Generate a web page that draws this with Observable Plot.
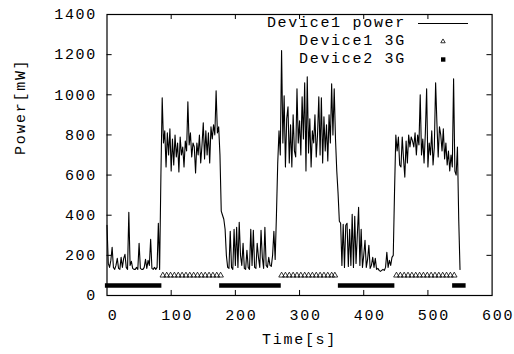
<!DOCTYPE html>
<html>
<head>
<meta charset="utf-8">
<script src="https://cdn.jsdelivr.net/npm/d3@7"></script>
<script src="https://cdn.jsdelivr.net/npm/@observablehq/plot@0.6"></script>
<style>
  html, body { margin: 0; padding: 0; background: #fff; }
  svg text { letter-spacing: 1.7px; }
</style>
</head>
<body>
<div id="chart"></div>
<script>
// Device1 power [mW], sampled every 2 s starting at t = 0 s
const sampleStep = 2;
const powerMw = [
  350,160,140,175,240,140,130,150,185,135,   // 0-18
  130,190,140,185,205,140,130,415,150,170,   // 20-38
  135,130,130,140,130,260,135,130,130,140,   // 40-58
  180,135,175,150,280,135,130,140,130,140,   // 60-78
  360,130,600,985,760,820,640,810,700,830,   // 80-98
  620,780,650,800,690,760,615,790,700,740,   // 100-118
  640,770,720,965,750,810,690,760,740,610,   // 120-138
  760,700,800,660,750,860,680,820,700,810,   // 140-158
  660,840,780,850,800,1020,810,840,700,420,  // 160-178
  400,380,330,200,140,135,320,140,130,330,   // 180-198
  150,340,140,365,200,150,260,135,130,225,   // 200-218
  140,130,330,150,325,140,135,260,190,140,   // 220-238
  325,190,135,340,150,140,190,150,145,200,   // 240-258
  320,180,400,660,820,700,1220,760,995,640,  // 260-278
  880,940,660,850,640,900,720,690,1030,760,  // 280-298
  870,700,990,780,1060,620,1090,710,880,640, // 300-318
  820,760,900,690,800,990,700,985,660,890,   // 320-338
  720,850,670,900,760,1055,800,1030,780,620, // 340-358
  510,370,360,150,355,140,350,360,145,330,   // 360-378
  150,405,140,395,160,300,440,150,330,140,   // 380-398
  200,275,140,180,250,135,150,190,140,185,   // 400-418
  130,135,125,120,125,130,125,140,215,140,   // 420-438
  175,150,190,200,520,800,720,790,650,640,   // 440-458
  790,680,590,770,660,800,740,790,770,740,   // 460-478
  810,700,800,750,1000,700,780,660,810,1030, // 480-498
  640,760,700,820,650,740,1060,860,690,840,  // 500-518
  800,720,830,680,760,650,720,620,700,640,   // 520-538
  1080,620,600,740,380,130                   // 540-550
];
const powerTime = powerMw.map((_, i) => i * sampleStep);

// Device1 3G state (plotted at level 100)
const d1Level = 100;
const d1Times = [
  87,93,99,105,111,117,123,129,135,141,147,153,159,165,171,177,
  272,278,284,290,296,302,308,314,320,326,332,338,344,350,355,
  451,457,463,469,475,481,487,493,499,505,511,517,523,529,535,541
];

// Device2 3G state (plotted at level 50), on-intervals [start, end] in s
const d2Level = 50;
const d2Start = [1, 179, 364, 542];
const d2End   = [82, 268, 445, 556];

const xTicks = [0, 100, 200, 300, 400, 500, 600];
const yTicks = [0, 200, 400, 600, 800, 1000, 1200, 1400];
const legendLabels = ["Device1 power", "Device1 3G", "Device2 3G"];

const power = powerTime.map((t, i) => ({t, p: powerMw[i]}));
const d1 = d1Times.map(t => ({t, v: d1Level}));
const d2 = d2Start.map((s, i) => ({s, e: d2End[i], v: d2Level}));

const font = "'Liberation Mono', 'DejaVu Sans Mono', monospace";

const chart = Plot.plot({
  width: 514,
  height: 354,
  marginLeft: 106.5,
  marginRight: 22.4,
  marginTop: 14,
  marginBottom: 59,
  style: {fontFamily: font, fontSize: "15px", color: "#000", background: "#fff"},
  x: {domain: [0, 600]},
  y: {domain: [0, 1400]},
  marks: [
    Plot.ruleX(xTicks.slice(1, -1), {y1: 0, y2: 25, stroke: "#000"}),
    Plot.ruleX(xTicks.slice(1, -1), {y1: 1375, y2: 1400, stroke: "#000"}),
    Plot.ruleY(yTicks.slice(1, -1), {x1: 0, x2: 8, stroke: "#000"}),
    Plot.ruleY(yTicks.slice(1, -1), {x1: 592, x2: 600, stroke: "#000"}),
    Plot.axisX({ticks: xTicks, tickSize: 0, tickPadding: 14, dx: 6, label: null, tickFormat: d => String(d)}),
    Plot.axisY({ticks: yTicks, tickSize: 0, tickPadding: 10, label: null, tickFormat: d => String(d)}),
    Plot.text(["Time[s]"], {frameAnchor: "bottom", dy: 48, fontSize: 15}),
    Plot.text(["Power[mW]"], {frameAnchor: "left", dx: -87, rotate: -90, fontSize: 15}),
    Plot.ruleY(d2, {x1: "s", x2: "e", y: "v", stroke: "#000", strokeWidth: 4.5, strokeLinecap: "square"}),
    Plot.dot(d1, {x: "t", y: "v", symbol: "triangle", r: 2.1, stroke: "#000", strokeWidth: 0.8, fill: "none"}),
    Plot.line(power, {x: "t", y: "p", stroke: "#000", strokeWidth: 1.1}),
    Plot.frame({stroke: "#000", strokeWidth: 1.2})
  ]
});

// Legend (inside top-right of the frame)
const svg = d3.select(chart);
const lg = svg.append("g").attr("font-family", font).attr("font-size", 15).attr("fill", "#000");
const rowY = [23.5, 41.5, 59.5];
legendLabels.forEach((lab, i) => {
  lg.append("text").attr("x", 406).attr("y", rowY[i]).attr("text-anchor", "end")
    .attr("dominant-baseline", "central").text(lab);
});
lg.append("line").attr("x1", 418).attr("x2", 468).attr("y1", rowY[0]).attr("y2", rowY[0])
  .attr("stroke", "#000").attr("stroke-width", 1.1);
lg.append("path").attr("d", d3.symbol(d3.symbolTriangle2, 14)())
  .attr("transform", `translate(443,${rowY[1]})`).attr("fill", "none").attr("stroke", "#000").attr("stroke-width", 0.8);
lg.append("rect").attr("x", 441).attr("y", rowY[2] - 2.2).attr("width", 4.4).attr("height", 4.4).attr("fill", "#000");

document.getElementById("chart").appendChild(chart);
</script>
</body>
</html>
